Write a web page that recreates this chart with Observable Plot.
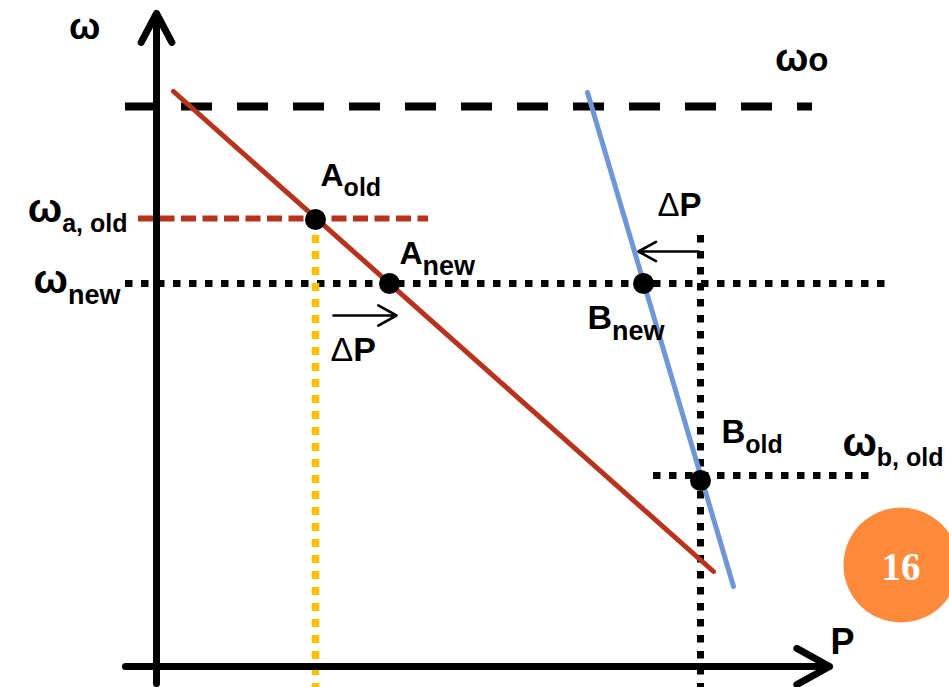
<!DOCTYPE html>
<html>
<head>
<meta charset="utf-8">
<script src="https://cdn.jsdelivr.net/npm/d3@7"></script>
<script src="https://cdn.jsdelivr.net/npm/@observablehq/plot@0.6"></script>
<style>
  html, body { margin: 0; padding: 0; background: #fff; }
  svg { display: block; }
</style>
</head>
<body>
<div id="chart"></div>
<script>
// Frequency–power droop diagram: two units A and B sharing a load change.

// Frequency levels on the ω axis, with the P-range each guide spans
const levelLabels = ["ωo", "ω_a, old", "ω_new", "ω_b, old"];
const levelOmega = [5.6, 4.48, 3.83, 1.91];
const levelFromP = [-0.31, -0.18, -0.31, 4.97];
const levelToP = [6.56, 2.72, 7.29, 7.14];

// Droop characteristics, endpoints as (P, ω)
const droopAP = [0.17, 5.57];
const droopAOmega = [5.75, 0.95];
const droopBP = [4.31, 5.77];
const droopBOmega = [5.74, 0.80];

// Operating points
const pointLabels = ["A_old", "A_new", "B_new", "B_old"];
const pointP = [1.59, 2.33, 4.87, 5.44];
const pointOmega = [4.47, 3.83, 3.83, 1.86];

// Vertical power guides through the old operating points
const guideP = [1.59, 5.44];
const guideTop = [4.31, 4.31];
const guideBottom = [-0.21, -0.21];

// ΔP shifts (start → end) and the ω level they are drawn at
const shiftLabels = ["ΔP", "ΔP"];
const shiftFromP = [1.77, 5.42];
const shiftToP = [2.40, 4.82];
const shiftOmega = [3.51, 4.15];

// Axes extents
const axisPFrom = -0.31, axisPTo = 6.73;
const axisOmegaFrom = -0.17, axisOmegaTo = 6.53;
const axisLabels = ["ω", "P"];

// Slide number badge
const badgeText = ["16"];
const badgeP = [7.445], badgeOmega = [1.015];

// Tables built from the arrays
const levels = levelLabels.map((label, i) => ({label, omega: levelOmega[i], from: levelFromP[i], to: levelToP[i]}));
const droopA = droopAP.map((P, i) => ({P, omega: droopAOmega[i]}));
const droopB = droopBP.map((P, i) => ({P, omega: droopBOmega[i]}));
const points = pointLabels.map((label, i) => ({label, P: pointP[i], omega: pointOmega[i]}));
const guides = guideP.map((P, i) => ({P, top: guideTop[i], bottom: guideBottom[i]}));
const shifts = shiftLabels.map((label, i) => ({label, from: shiftFromP[i], to: shiftToP[i], omega: shiftOmega[i]}));
const badge = badgeText.map((label, i) => ({label, P: badgeP[i], omega: badgeOmega[i]}));

const RED = "#b8321c", BLUE = "#6e96d8", GOLD = "#ffc000", ORANGE = "#fd8a3b";
const bold = {fontWeight: "bold", lineAnchor: "bottom", fill: "black"};

const chart = Plot.plot({
  width: 949,
  height: 687,
  margin: 0,
  x: {domain: [-1.56, 7.93], axis: null},
  y: {domain: [-0.21, 6.66], axis: null},
  style: {fontFamily: "'Liberation Sans', Arial, Helvetica, sans-serif", background: "white", overflow: "visible"},
  marks: [
    // ω0 no-load level
    Plot.ruleY(levels.slice(0, 1), {y: "omega", x1: "from", x2: "to", stroke: "black", strokeWidth: 8, strokeDasharray: "31,25"}),
    // ω_a,old level
    Plot.ruleY(levels.slice(1, 2), {y: "omega", x1: "from", x2: "to", stroke: RED, strokeWidth: 6, strokeDasharray: "15,6.5"}),
    // ω_new and ω_b,old levels
    Plot.ruleY(levels.slice(2, 4), {y: "omega", x1: "from", x2: "to", stroke: "black", strokeWidth: 7, strokeDasharray: "7.5,8.5"}),
    // power guides
    Plot.ruleX(guides.slice(0, 1), {x: "P", y1: "top", y2: "bottom", stroke: GOLD, strokeWidth: 7.5, strokeDasharray: "8,8"}),
    Plot.ruleX(guides.slice(1, 2), {x: "P", y1: "top", y2: "bottom", stroke: "black", strokeWidth: 7, strokeDasharray: "7.5,8.5"}),
    // droop lines
    Plot.line(droopA, {x: "P", y: "omega", stroke: RED, strokeWidth: 5}),
    Plot.line(droopB, {x: "P", y: "omega", stroke: BLUE, strokeWidth: 5}),
    // axes
    Plot.arrow([{x1: 0, y1: axisOmegaFrom, x2: 0, y2: axisOmegaTo}], {x1: "x1", y1: "y1", x2: "x2", y2: "y2", stroke: "black", strokeWidth: 7, headLength: 7, headAngle: 56, strokeLinecap: "round", strokeLinejoin: "round"}),
    Plot.arrow([{x1: axisPFrom, y1: 0, x2: axisPTo, y2: 0}], {x1: "x1", y1: "y1", x2: "x2", y2: "y2", stroke: "black", strokeWidth: 7, headLength: 8, headAngle: 58, strokeLinecap: "round", strokeLinejoin: "round"}),
    // ΔP arrows
    Plot.arrow(shifts, {x1: "from", y1: "omega", x2: "to", y2: "omega", stroke: "black", strokeWidth: 2.6, headLength: 12, headAngle: 58, strokeLinecap: "round"}),
    // operating points
    Plot.dot(points, {x: "P", y: "omega", r: 10.5, fill: "black"}),

    // axis titles
    Plot.text([{label: axisLabels[0], P: 0, omega: axisOmegaTo}], {x: "P", y: "omega", text: "label", ...bold, fontSize: 31, textAnchor: "end", dx: -56, dy: 25}),
    Plot.text([{label: axisLabels[1], P: axisPTo, omega: 0}], {x: "P", y: "omega", text: "label", ...bold, fontSize: 36, textAnchor: "start", dx: 1, dy: -13}),

    // level labels
    Plot.text(levels.slice(0, 1), {x: "to", y: "omega", text: "label", ...bold, fontSize: 33, textAnchor: "end", dx: 16, dy: -36}),
    Plot.text(levels.slice(1, 2), {x: "from", y: "omega", text: "label", ...bold, fontSize: 34, textAnchor: "end", dx: -11, dy: 3}),
    Plot.text(levels.slice(2, 3), {x: "from", y: "omega", text: "label", ...bold, fontSize: 34, textAnchor: "end", dx: -5, dy: 9}),
    Plot.text(levels.slice(3, 4), {x: "to", y: "omega", text: "label", ...bold, fontSize: 34, textAnchor: "end", dx: 73, dy: -20}),

    // point labels
    Plot.text(points.slice(0, 1), {x: "P", y: "omega", text: "label", ...bold, fontSize: 32, textAnchor: "start", dx: 5, dy: -34}),
    Plot.text(points.slice(1, 2), {x: "P", y: "omega", text: "label", ...bold, fontSize: 32, textAnchor: "start", dx: 10, dy: -20}),
    Plot.text(points.slice(2, 3), {x: "P", y: "omega", text: "label", ...bold, fontSize: 34, textAnchor: "start", dx: -56, dy: 45}),
    Plot.text(points.slice(3, 4), {x: "P", y: "omega", text: "label", ...bold, fontSize: 33, textAnchor: "start", dx: 21, dy: -38}),

    // ΔP labels
    Plot.text(shifts.slice(0, 1), {x: "from", y: "omega", text: "label", ...bold, fontSize: 34, textAnchor: "start", dx: -3, dy: 45}),
    Plot.text(shifts.slice(1, 2), {x: "to", y: "omega", text: "label", ...bold, fontSize: 33, textAnchor: "start", dx: 19, dy: -36}),

    // slide badge
    Plot.dot(badge, {x: "P", y: "omega", r: 57.5, fill: ORANGE}),
    Plot.text(badge, {x: "P", y: "omega", text: "label", fontFamily: "'Liberation Serif', 'DejaVu Serif', serif", fontWeight: "bold", fontSize: 39, fill: "white", textAnchor: "middle", lineAnchor: "middle", dy: 3})
  ]
});

// Typeset subscripts ("A_old"), a wider ω and a light Δ as tspans
const NS = "http://www.w3.org/2000/svg";
chart.querySelectorAll("text").forEach((t) => {
  const s = t.textContent;
  if (!/[_Δω]/.test(s)) return;
  const [base, sub] = s.split("_");
  t.textContent = "";
  for (const part of base.split(/([Δω])/).filter(Boolean)) {
    const span = document.createElementNS(NS, "tspan");
    if (part === "Δ") span.setAttribute("font-weight", "normal");
    if (part === "ω") span.setAttribute("font-size", "1.2em");
    span.textContent = part;
    t.appendChild(span);
  }
  if (sub) {
    const span = document.createElementNS(NS, "tspan");
    span.setAttribute("font-size", /new/.test(sub) ? "27px" : "25px");
    span.setAttribute("dy", "0.42em");
    span.textContent = sub;
    t.appendChild(span);
  }
});

document.getElementById("chart").appendChild(chart);
</script>
</body>
</html>
